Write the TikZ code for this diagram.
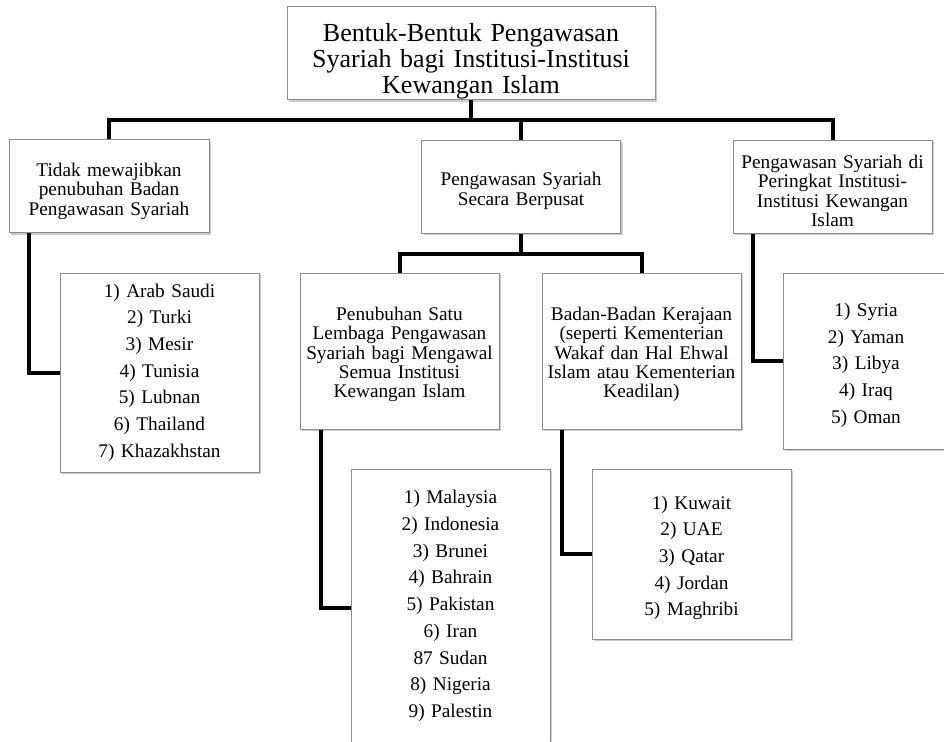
\documentclass[tikz,border=0pt]{standalone}
\usepackage{fontspec}
\setmainfont{Liberation Serif}
\usetikzlibrary{shadows}

\tikzset{
  box/.style={draw=black!45, line width=1pt, fill=white, inner sep=0pt, align=center,
    drop shadow={shadow xshift=2pt, shadow yshift=-2pt, fill=black!40}},
  lower/.style={execute at begin node={\rule{0pt}{#1}}},
  conn/.style={line width=4pt}
}

\begin{document}
\begin{tikzpicture}[x=1pt, y=-1pt]
    \pgfmathsetmacro{\boxw}{199}
    \pgfmathsetmacro{\boxh}{93}
    \clip (0,0) rectangle (944,741);
    \fill[white] (0,0) rectangle (944,741);
    \node[box, lower=33pt, text width=368pt, minimum height=93pt, font=\fontsize{26}{26}\selectfont] (title) at (471,53.5)
        {Bentuk-Bentuk Pengawasan\\Syariah bagi Institusi-Institusi\\Kewangan Islam};
    \node[box, lower=24pt, text width=200pt, minimum height=\boxh pt, font=\fontsize{19.3}{19.3}\selectfont] (left) at (109,186)
        {Tidak mewajibkan\\penubuhan Badan\\Pengawasan Syariah};
    \node[box, lower=22pt, text width=\boxw pt, minimum height=\boxh pt, font=\fontsize{19.3}{19.6}\selectfont] (mid) at (521,186.5)
        {Pengawasan Syariah\\Secara Berpusat};
    \node[box, lower=22pt, text width=\boxw pt, minimum height=\boxh pt, font=\fontsize{19.3}{19.6}\selectfont] (right) at (832.5,186.5)
        {Pengawasan Syariah di\\Peringkat Institusi-\\Institusi Kewangan\\Islam};
    \node[box, lower=20.5pt, text width=\boxw pt, minimum height=156pt, font=\fontsize{19.3}{19.3}\selectfont] (pen) at (399.5,351)
        {Penubuhan Satu\\Lembaga Pengawasan\\Syariah bagi Mengawal\\Semua Institusi\\Kewangan Islam};
    \node[box, lower=20.5pt, text width=\boxw pt, minimum height=156pt, font=\fontsize{19.3}{19.3}\selectfont] (badan) at (641.5,351)
        {Badan-Badan Kerajaan\\(seperti Kementerian\\Wakaf dan Hal Ehwal\\Islam atau Kementerian\\Keadilan)};
    \node[box, text width=\boxw pt, minimum height=199pt, font=\fontsize{19.3}{26.7}\selectfont] (listone) at (159.5,372.5)
        {1) Arab Saudi\\2) Turki\\3) Mesir\\4) Tunisia\\5) Lubnan\\6) Thailand\\7) Khazakhstan};
    \node[box, text width=\boxw pt, minimum height=274pt, font=\fontsize{19.3}{26.7}\selectfont] (listtwo) at (450.5,606)
        {1) Malaysia\\2) Indonesia\\3) Brunei\\4) Bahrain\\5) Pakistan\\6) Iran\\87 Sudan\\8) Nigeria\\9) Palestin};
    \node[box, lower=21pt, text width=\boxw pt, minimum height=170pt, font=\fontsize{19.3}{26.7}\selectfont] (listthree) at (691.5,554)
        {1) Kuwait\\2) UAE\\3) Qatar\\4) Jordan\\5) Maghribi};
    \node[box, lower=22pt, text width=166pt, minimum height=176pt, font=\fontsize{19.3}{26.7}\selectfont] (listfour) at (866,361)
        {1) Syria\\2) Yaman\\3) Libya\\4) Iraq\\5) Oman};
    \coordinate (bus) at (0,120);
    \coordinate (subbus) at (0,254);
    \draw[conn] (title.south) -- (title.south |- bus);
    \draw[conn] (left.north) |- (right.north |- bus) -- (right.north);
    \draw[conn] (mid.north) -- (mid.north |- bus);
    \draw[conn] (mid.south) -- (mid.south |- subbus);
    \draw[conn] (pen.north) |- (badan.north |- subbus) -- (badan.north);
    \draw[conn] ([xshift=20pt]left.south west) |- (listone.west);
    \draw[conn] ([xshift=21pt]pen.south west) |- ([yshift=-2pt]listtwo.west);
    \draw[conn] ([xshift=20pt]badan.south west) |- (listthree.west);
    \draw[conn] ([xshift=20pt]right.south west) |- (listfour.west);
\end{tikzpicture}
\end{document}
